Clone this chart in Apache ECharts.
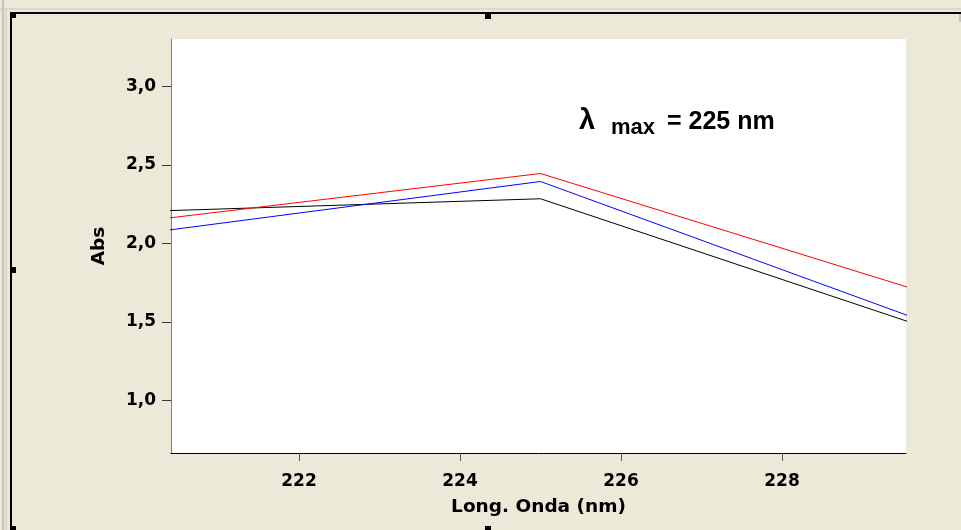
<!DOCTYPE html>
<html>
<head>
<meta charset="utf-8">
<script src="https://cdn.jsdelivr.net/npm/echarts@6/dist/echarts.min.js"></script>
<style>
html,body{margin:0;padding:0;background:#ECE9D8;}
#c{width:961px;height:530px;}
</style>
</head>
<body>
<div id="c"></div>
<script>
// Data
const wavelengths = [220, 225, 230];
const seriesBlack = [2.202, 2.284, 1.427];
const seriesRed = [2.138, 2.445, 1.651];
const seriesBlue = [2.059, 2.394, 1.458];
const xTicks = [222, 224, 226, 228];
const yTicks = [1.0, 1.5, 2.0, 2.5, 3.0];
const xName = 'Long. Onda (nm)';
const yName = 'Abs';

const chart = echarts.init(document.getElementById('c'), null, {renderer: 'canvas'});
const AXFONT = '"DejaVu Sans", Verdana, sans-serif';
const FONT = '"Liberation Sans", Arial, sans-serif';
const pts = arr => wavelengths.map((w, i) => [w, arr[i]]);
const mkLine = (name, arr, color) => ({
  name, type: 'line', data: pts(arr), showSymbol: false, symbol: 'none',
  clip: true, silent: true, animation: false,
  lineStyle: {color, width: 1}
});

const handles = [
  [10, 12], [485, 13], [10, 267], [485, 526], [10, 526]
].map(([x, y]) => ({type: 'rect', shape: {x, y, width: 6, height: 6}, style: {fill: '#000'}, silent: true}));

const txt = (text, left, top, size) => ({
  type: 'text', left, top, silent: true,
  style: {text, font: 'bold ' + size + 'px ' + FONT, fill: '#000'}
});

chart.setOption({
  backgroundColor: '#ECE9D8',
  animation: false,
  grid: {left: 171, right: 55, top: 39, bottom: 77, show: true, backgroundColor: '#ffffff', borderWidth: 0},
  xAxis: {
    type: 'value', min: 220.41, max: 229.54,
    name: xName, nameLocation: 'middle', nameGap: 45,
    nameTextStyle: {fontFamily: AXFONT, fontWeight: 'bold', fontSize: 18.5, color: '#000'},
    axisLine: {show: true, lineStyle: {color: '#000', width: 1}},
    axisTick: {show: true, length: 8, lineStyle: {color: '#555'}, customValues: xTicks},
    axisLabel: {show: true, margin: 20, fontFamily: AXFONT, fontWeight: 'bold', fontSize: 17, color: '#000', customValues: xTicks, formatter: v => String(v)},
    splitLine: {show: false}
  },
  yAxis: {
    type: 'value', min: 0.664, max: 3.302,
    name: yName, nameLocation: 'middle', nameGap: 62, nameRotate: 90,
    nameTextStyle: {fontFamily: AXFONT, fontWeight: 'bold', fontSize: 18.5, color: '#000'},
    axisLine: {show: true, lineStyle: {color: '#808080', width: 1}},
    axisTick: {show: true, length: 9, lineStyle: {color: '#333'}, customValues: yTicks},
    axisLabel: {show: true, margin: 15, fontFamily: AXFONT, fontWeight: 'bold', fontSize: 17, color: '#000', customValues: yTicks, formatter: v => v.toFixed(1).replace('.', ',')},
    splitLine: {show: false}
  },
  series: [
    mkLine('Black', seriesBlack, '#000000'),
    mkLine('Red', seriesRed, '#ff0000'),
    mkLine('Blue', seriesBlue, '#0000ff')
  ],
  graphic: [
    {type: 'line', shape: {x1: 3, y1: 0, x2: 3, y2: 530}, style: {stroke: '#a0a0a0', lineWidth: 1}, silent: true},
    {type: 'line', shape: {x1: 6, y1: 9, x2: 6, y2: 530}, style: {stroke: '#c8c8c0', lineWidth: 1}, silent: true},
    {type: 'line', shape: {x1: 0, y1: 9, x2: 961, y2: 9}, style: {stroke: '#c8c8c0', lineWidth: 1}, silent: true},
    {type: 'line', shape: {x1: 12, y1: 13, x2: 961, y2: 13}, style: {stroke: '#000', lineWidth: 2}, silent: true},
    {type: 'line', shape: {x1: 11, y1: 13, x2: 11, y2: 530}, style: {stroke: '#000', lineWidth: 2}, silent: true},
    {type: 'line', shape: {x1: 960, y1: 14, x2: 960, y2: 22}, style: {stroke: '#a0a0a0', lineWidth: 1}, silent: true},
    ...handles,
    txt('λ', 579, 106, 29),
    txt('max', 611, 117, 22),
    txt('= 225 nm', 667, 110, 25)
  ]
});
</script>
</body>
</html>
